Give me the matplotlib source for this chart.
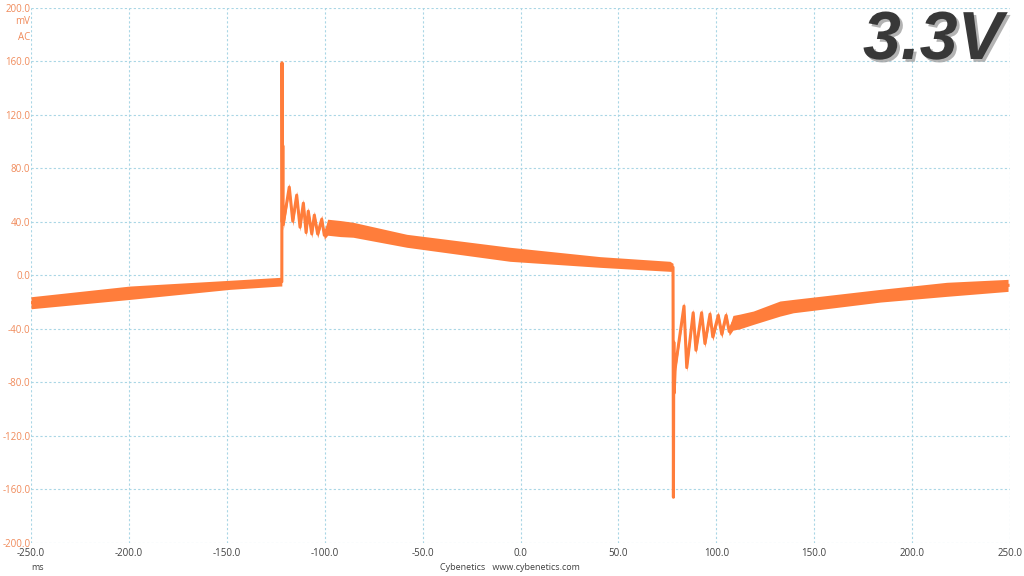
import numpy as np
import matplotlib.pyplot as plt
import matplotlib.patheffects as pe

# values (ms, mV low edge, mV high edge of the noisy trace)
time_ms = [-250.0, -199.5, -148.5, -122.8, -121.9,
           -121.8, -121.6, -121.4, -121.2,
           -118.1, -116.3, -114.3, -112.6, -110.9, -109.5, -108.4, -106.6,
           -105.3, -103.6, -101.5, -100.2, -98.5, -92.0, -85.5, -58.1, -5.4, 40.6,
           76.3, 77.9,
           78.1, 78.3, 78.5, 79.0,
           83.5, 84.9, 88.2, 89.6, 92.5, 94.2, 96.8, 98.2, 101.0, 102.8,
           105.0, 106.6, 108.5, 112.0, 118.9, 132.5, 139.3, 183.7, 217.7, 249.0]
mv_low = [-25.0, -18.0, -10.5, -8.0, -8.0,
          159.0, 40.0, 97.0, 34.0,
          63.0, 37.0, 57.0, 33.0, 51.0, 29.0, 45.0, 28.0,
          42.0, 28.0, 39.0, 27.0, 30.0, 29.0, 28.5, 21.0, 10.5, 6.0,
          3.0, 3.0,
          -166.0, -50.0, -88.0, -73.0,
          -26.0, -72.0, -31.0, -59.0, -31.0, -54.0, -32.0, -49.0, -33.0, -47.0,
          -33.0, -45.0, -41.0, -40.0, -36.7, -30.5, -28.0, -20.0, -15.7, -12.0]
mv_high = [-16.0, -8.0, -3.7, -1.5, -1.5,
           159.0, 40.0, 97.0, 42.0,
           69.0, 44.0, 63.0, 39.0, 57.0, 35.0, 51.0, 34.0,
           48.0, 34.0, 45.0, 33.0, 42.0, 41.0, 39.7, 30.7, 21.0, 14.0,
           10.5, 9.0,
           -166.0, -50.0, -88.0, -66.0,
           -20.0, -66.0, -25.0, -53.0, -25.0, -48.0, -26.0, -43.0, -27.0, -41.0,
           -27.0, -39.0, -30.0, -29.0, -26.7, -19.2, -18.0, -10.5, -5.2, -3.0]

x_ticks = [-250, -200, -150, -100, -50, 0, 50, 100, 150, 200, 250]
y_ticks = [-200, -160, -120, -80, -40, 0, 40, 80, 120, 160, 200]

trace_color = "#ff7d3b"
grid_color = "#a9d6e5"
ylab_color = "#f08a5a"
xlab_color = "#404040"
label_font = "Open Sans"


def main():
    t = np.array(time_ms)
    lo = np.array(mv_low)
    hi = np.array(mv_high)
    mid = (lo + hi) / 2

    fig = plt.figure(figsize=(10.24, 5.76), dpi=100)
    ax = fig.add_axes([31 / 1024, 33.3 / 576, 979 / 1024, 534.7 / 576])

    ax.fill_between(t, lo, hi, color=trace_color, linewidth=0)
    ax.plot(t, mid, color=trace_color, linewidth=2.2)

    ax.set_xlim(-250, 250)
    ax.set_ylim(-200, 200)
    ax.set_xticks(x_ticks)
    ax.set_yticks(y_ticks)
    ax.set_xticklabels([f"{v:.1f}" for v in x_ticks], color=xlab_color,
                       fontsize=7, family=label_font)
    ax.set_yticklabels([f"{v:.1f}" for v in y_ticks], color=ylab_color,
                       fontsize=7, family=label_font)
    ax.tick_params(axis="y", length=0, pad=0.5)
    ax.tick_params(axis="x", length=0, pad=4)
    ax.grid(True, color=grid_color, linestyle=(0, (2, 2)), linewidth=0.8)
    ax.set_axisbelow(True)
    for s in ax.spines.values():
        s.set_visible(False)

    # unit labels
    fig.text(30 / 1024, 1 - 22 / 576, "mV", color=ylab_color, fontsize=7,
             family=label_font, ha="right", va="center")
    fig.text(30 / 1024, 1 - 37 / 576, "AC", color=ylab_color, fontsize=7,
             family=label_font, ha="right", va="center")
    fig.text(37.5 / 1024, 1 - 568 / 576, "ms", color=xlab_color, fontsize=6.5,
             family=label_font, ha="center", va="center")
    fig.text(510 / 1024, 1 - 568 / 576, "Cybenetics   www.cybenetics.com",
             color=xlab_color, fontsize=6.5, family=label_font,
             ha="center", va="center")

    # big rail label
    fig.text(1003 / 1024, 1 - 41 / 576, "3.3V", family="Liberation Sans",
             fontsize=49, fontweight="bold", fontstyle="italic", color="#383838",
             ha="right", va="center",
             path_effects=[pe.withSimplePatchShadow(offset=(2, -2), shadow_rgbFace="#a0a0a0",
                                                    alpha=0.8)])

    plt.savefig("out.png", dpi=100)
    plt.close()


if __name__ == "__main__":
    main()
